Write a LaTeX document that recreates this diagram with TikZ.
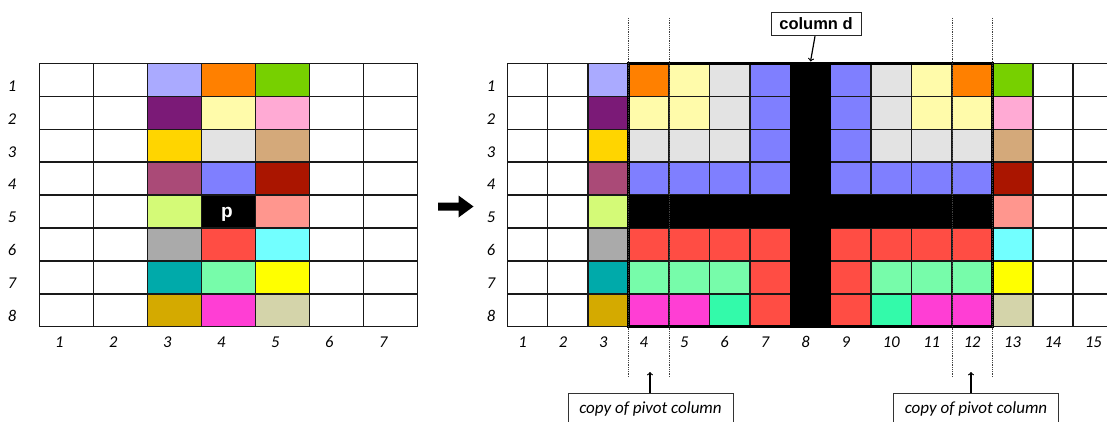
\documentclass[tikz,border=0pt]{standalone}
\usepackage{fontspec}
\setmainfont{Carlito}
\newfontfamily\arialfont{Liberation Sans}
\usetikzlibrary{arrows}

% cell colours
\definecolor{clav}{HTML}{AAAAFF}
\definecolor{corng}{HTML}{FF8000}
\definecolor{cgrn}{HTML}{77D000}
\definecolor{cpurp}{HTML}{7B1A77}
\definecolor{clyel}{HTML}{FFFBAA}
\definecolor{cpink}{HTML}{FFAAD4}
\definecolor{cgold}{HTML}{FFD500}
\definecolor{clgray}{HTML}{E3E3E3}
\definecolor{ctan}{HTML}{D4A97A}
\definecolor{cmauve}{HTML}{AA4A77}
\definecolor{cblu}{HTML}{7F7FFF}
\definecolor{cdred}{HTML}{AA1500}
\definecolor{clime}{HTML}{D4FA77}
\definecolor{csalm}{HTML}{FF968E}
\definecolor{cmgray}{HTML}{AAAAAA}
\definecolor{cred}{HTML}{FF4D44}
\definecolor{caqua}{HTML}{72FFFF}
\definecolor{cteal}{HTML}{00AAAA}
\definecolor{cmint}{HTML}{77FCAA}
\definecolor{cyel}{HTML}{FFFF00}
\definecolor{cochre}{HTML}{D4AA00}
\definecolor{cmag}{HTML}{FF3ED4}
\definecolor{csea}{HTML}{33FAAA}
\definecolor{ckhaki}{HTML}{D4D4AA}

\tikzset{
  gridline/.style={draw=black!90, line width=1.5pt},
  numlabel/.style={font=\fontsize{16.5}{18}\selectfont\itshape, inner sep=0pt},
  notebox/.style={draw=black!80, line width=1pt, inner sep=0pt,
    minimum width=165pt, minimum height=31pt,
    font=\fontsize{17}{19}\selectfont\itshape},
  dbox/.style={draw=black!85, line width=1pt, inner sep=0pt,
    minimum width=90pt, minimum height=23.5pt,
    font=\arialfont\bfseries\fontsize{16.5}{18}\selectfont},
  guide/.style={densely dotted, line width=0.8pt, black!75},
}

\begin{document}
\begin{tikzpicture}[x=1pt,y=-1pt]
    \useasboundingbox (0,0) rectangle (1107,422);
    \clip (0,0) rectangle (1107,422);

    % Left matrix: coloured columns 3..5
    \foreach \r/\row in {1/{clav,corng,cgrn},2/{cpurp,clyel,cpink},
        3/{cgold,clgray,ctan},4/{cmauve,cblu,cdred},5/{clime,black,csalm},
        6/{cmgray,cred,caqua},7/{cteal,cmint,cyel},8/{cochre,cmag,ckhaki}}
      \foreach \cc [count=\c from 3] in \row
        \fill[\cc] ({39.3+54*(\c-1)},{63.5+32.9*(\r-1)}) rectangle +(54,32.9);
    \foreach \i in {0,...,7}
      \draw[gridline] ({39.3+54*\i},63.5) -- ++(0,263.2);
    \foreach \j in {0,...,8}
      \draw[gridline] (39.3,{63.5+32.9*\j}) -- ++(378,0);
    \node[font=\arialfont\bfseries\fontsize{19}{20}\selectfont, text=white, inner sep=0pt] (pivot) at (227,214) {p};

    % Left labels
    \foreach \r in {1,...,8}
      \node[numlabel] (lrow\r) at (12,{63.5+32.9*(\r-0.5)+6}) {\r};
    \foreach \c in {1,...,7}
      \node[numlabel] (lcol\c) at ({39.3+54*(\c-0.5)-7},342) {\c};

    % Arrow between the matrices
    \fill (438,202.5) -- (458.5,202.5) -- (458.5,195.5) -- (473.5,206.5)
        -- (458.5,217.5) -- (458.5,210.5) -- (438,210.5) -- cycle;

    % Right matrix: coloured columns 3..13
    \foreach \r/\row in {
        1/{clav,corng,clyel,clgray,cblu,black,cblu,clgray,clyel,corng,cgrn},
        2/{cpurp,clyel,clyel,clgray,cblu,black,cblu,clgray,clyel,clyel,cpink},
        3/{cgold,clgray,clgray,clgray,cblu,black,cblu,clgray,clgray,clgray,ctan},
        4/{cmauve,cblu,cblu,cblu,cblu,black,cblu,cblu,cblu,cblu,cdred},
        5/{clime,black,black,black,black,black,black,black,black,black,csalm},
        6/{cmgray,cred,cred,cred,cred,black,cred,cred,cred,cred,caqua},
        7/{cteal,cmint,cmint,cmint,cred,black,cred,cmint,cmint,cmint,cyel},
        8/{cochre,cmag,cmag,csea,cred,black,cred,csea,cmag,cmag,ckhaki}}
      \foreach \cc [count=\c from 3] in \row
        \fill[\cc] ({507.3+40.42*(\c-1)},{63.5+32.9*(\r-1)}) rectangle +(40.42,32.9);
    \foreach \i in {0,...,15}
      \draw[gridline] ({507.3+40.42*\i},63.5) -- ++(0,263.2);
    \foreach \j in {0,...,8}
      \draw[gridline] (507.3,{63.5+32.9*\j}) -- ++(606.3,0);
    % pivot row and column d, solid black over the lines
    \fill (628.6,195.0) rectangle (992.3,228.3);
    \fill (789.5,63.5) rectangle (831.4,326.7);
    \draw[line width=3.5pt] (628.6,63.5) rectangle (992.3,326.7);

    % Right labels
    \foreach \r in {1,...,8}
      \node[numlabel] (rrow\r) at (491,{63.5+32.9*(\r-0.5)+6}) {\r};
    \foreach \c in {1,...,9}
      \node[numlabel] (rcol\c) at ({507.3+40.42*(\c-0.5)-5},342) {\c};
    \foreach \c in {10,...,15}
      \node[numlabel] (rcol\c) at ({507.3+40.42*(\c-0.5)},342) {\c};

    % Guides round the copied columns
    \foreach \gx in {628.6,669.0,951.9,992.3}
      \draw[guide] (\gx,18) -- (\gx,377);

    % Column d
    \node[dbox] (coldlbl) at (816,24) {column d};
    \coordinate (coldtip) at (810.5,61.5);
    \draw[->, line width=1.2pt] ([xshift=-1pt]coldlbl.south) -- (coldtip);

    % Copies of the pivot column
    \node[notebox] (copyA) at (650.5,408.5) {copy of pivot column};
    \node[notebox] (copyB) at (976,408.5) {copy of pivot column};
    \coordinate (tipA) at (650,372);
    \coordinate (tipB) at (971,372);
    \draw[->, line width=1.2pt] (copyA.north -| tipA) -- (tipA);
    \draw[->, line width=1.2pt] (copyB.north -| tipB) -- (tipB);
\end{tikzpicture}
\end{document}
